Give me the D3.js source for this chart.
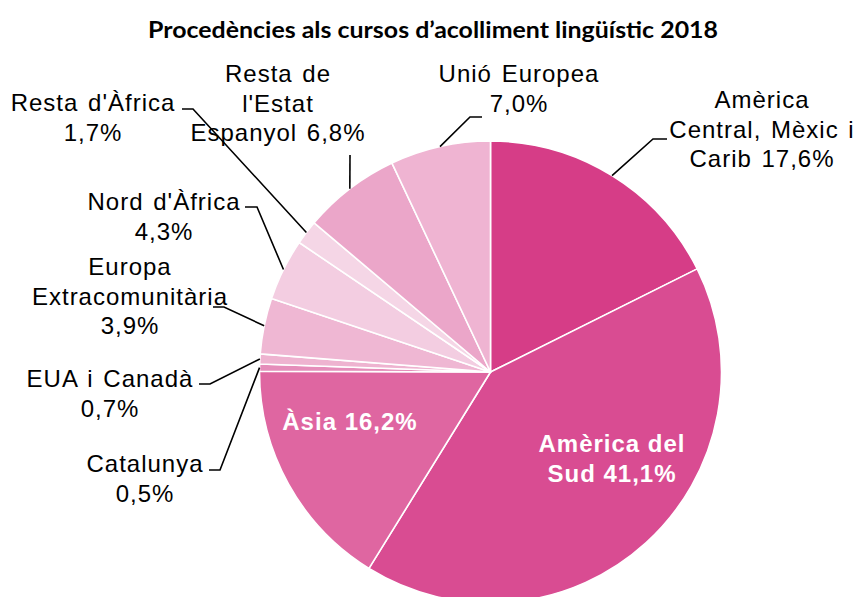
<!DOCTYPE html>
<html lang="ca">
<head>
    <meta charset="UTF-8">
    <title>Procedències als cursos d'acolliment lingüístic 2018</title>
    <script src="https://d3js.org/d3.v7.min.js"></script>
    <style>
        body { margin: 0; background: white; }
        .lbl { font-family: "Liberation Sans", Arial, sans-serif; font-size: 24px; letter-spacing: 1px; word-spacing: 2px; fill: black; }
        .inner { font-family: "Liberation Sans", Arial, sans-serif; font-size: 24px; font-weight: bold; letter-spacing: 1px; fill: white; }
        .leader { fill: none; stroke: black; stroke-width: 1.6; }
    </style>
</head>
<body>
    <svg id="chart" width="858" height="597"></svg>

    <script>
        // data ------------------------------------------------------------
        const categories = ["Amèrica Central, Mèxic i Carib", "Amèrica del Sud", "Àsia", "Catalunya",
            "EUA i Canadà", "Europa Extracomunitària", "Nord d'Àfrica", "Resta d'Àfrica",
            "Resta de l'Estat Espanyol", "Unió Europea"];
        const shares = [17.6, 41.1, 16.2, 0.5, 0.7, 3.9, 4.3, 1.7, 6.8, 7.0];
        const labelTexts = [
            ["Amèrica", "Central, Mèxic i", "Carib 17,6%"],
            ["Amèrica del", "Sud 41,1%"],
            ["Àsia 16,2%"],
            ["Catalunya", "0,5%"],
            ["EUA i Canadà", "0,7%"],
            ["Europa", "Extracomunitària", "3,9%"],
            ["Nord d'Àfrica", "4,3%"],
            ["Resta d'Àfrica", "1,7%"],
            ["Resta de", "l'Estat", "Espanyol 6,8%"],
            ["Unió Europea", "7,0%"]
        ];
        const title = "Procedències als cursos d’acolliment lingüístic 2018";

        // look -------------------------------------------------------------
        const colors = ["#d63d87", "#d94c92", "#df66a1", "#e58dba", "#eeb3d0",
            "#efb7d3", "#f3cde1", "#f5d6e6", "#eba6c9", "#efb4d2"];

        // label placement: x centre, first baseline, inside?, leader start points
        const layout = [
            {x: 762, y: 108, inner: false, leader: [[667, 139], [653, 139]]},
            {x: 612, y: 452, inner: true},
            {x: 350, y: 430, inner: true},
            {x: 145, y: 472, inner: false, leader: [[209, 470], [220, 470]]},
            {x: 110, y: 387, inner: false, leader: [[199, 384], [210, 384]]},
            {x: 130, y: 275, inner: false, leader: [[213, 307], [224, 307]]},
            {x: 164, y: 210, inner: false, leader: [[245, 207], [257, 207]]},
            {x: 93, y: 111, inner: false, leader: [[182, 109], [193, 109]]},
            {x: 278, y: 82, inner: false, leader: [[350, 155]]},
            {x: 519, y: 82, inner: false, leader: [[482, 117], [470, 117]]}
        ];
        const lineHeight = 29.7;

        const svg = d3.select("svg#chart");
        const cx = 490.5, cy = 372, radius = 231;

        // title
        svg.append("text")
            .attr("x", 148).attr("y", 38)
            .attr("textLength", 570).attr("lengthAdjust", "spacingAndGlyphs")
            .style("font-family", "Lato, 'Open Sans', sans-serif")
            .style("font-weight", "bold")
            .style("font-size", "23px")
            .text(title);

        const rows = categories.map((c, i) => ({name: c, value: shares[i], lines: labelTexts[i], color: colors[i], pos: layout[i]}));

        const pie = d3.pie().sort(null).value(d => d.value);
        const arc = d3.arc().innerRadius(0).outerRadius(radius);
        const arcs = pie(rows);

        const g = svg.append("g").attr("transform", `translate(${cx},${cy})`);

        g.selectAll("path.slice")
            .data(arcs)
            .join("path")
            .attr("class", "slice")
            .attr("d", arc)
            .attr("fill", d => d.data.color)
            .attr("stroke", "white")
            .attr("stroke-width", 1.6)
            .attr("stroke-linejoin", "round");

        // leader lines, ending on the rim at each slice's middle angle
        const rimPoint = d => {
            const a = (d.startAngle + d.endAngle) / 2;
            return [cx + radius * Math.sin(a), cy - radius * Math.cos(a)];
        };

        svg.selectAll("path.leader")
            .data(arcs.filter(d => !d.data.pos.inner))
            .join("path")
            .attr("class", "leader")
            .attr("d", d => d3.line()(d.data.pos.leader.concat([rimPoint(d)])));

        // labels
        const labels = svg.selectAll("text.label")
            .data(arcs)
            .join("text")
            .attr("class", d => d.data.pos.inner ? "label inner" : "label lbl")
            .attr("text-anchor", "middle");

        labels.selectAll("tspan")
            .data(d => d.data.lines.map((t, k) => ({t: t, k: k, pos: d.data.pos})))
            .join("tspan")
            .attr("x", d => d.pos.x)
            .attr("y", d => d.pos.y + d.k * lineHeight)
            .text(d => d.t);
    </script>
</body>
</html>
